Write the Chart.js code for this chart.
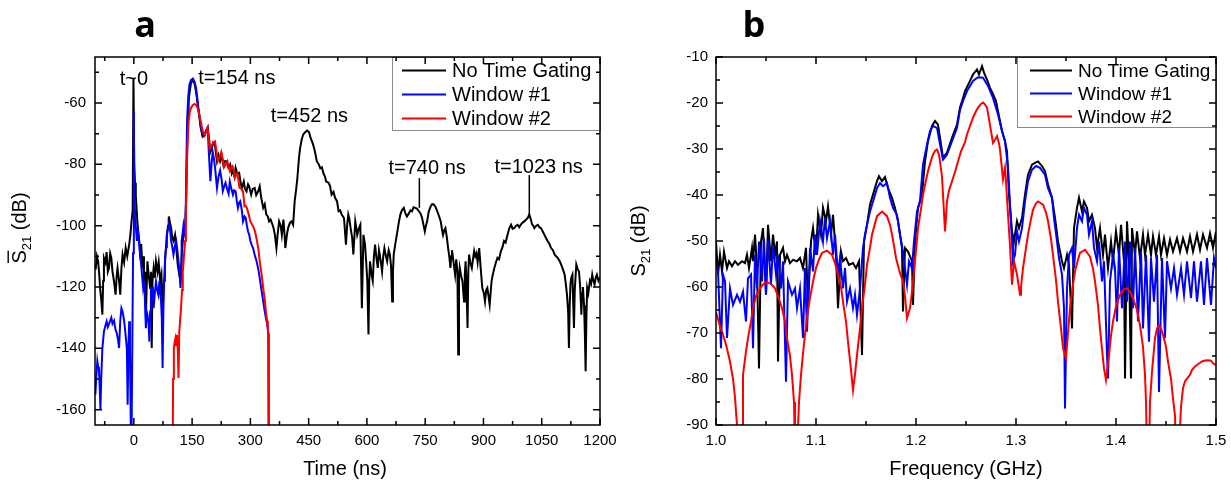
<!DOCTYPE html>
<html>
<head>
<meta charset="utf-8">
<script src="https://cdn.jsdelivr.net/npm/chart.js@4.4.0/dist/chart.umd.min.js"></script>
<style>
  html, body { margin: 0; padding: 0; background: #fff; }
  #wrap { position: relative; width: 1231px; height: 481px; }
  #chartA { position: absolute; left: 0; top: 0; }
  #chartB { position: absolute; left: 611px; top: 0; }
</style>
</head>
<body>
<div id="wrap">
  <canvas id="chartA" width="640" height="481"></canvas>
  <canvas id="chartB" width="620" height="481"></canvas>
</div>
<script>
// ---- panel a: time domain, [t (ns), S21 (dB)] ----
const aNoGate = [[-100,-114],[-98,-113.8],[-95,-110],[-92,-111.6],[-89,-116],[-87,-120.3],[-84,-124],[-81,-129],[-79,-118],[-77,-110.5],[-73,-112],[-70,-108.6],[-67,-115],[-64,-113.8],[-61,-109],[-58,-110.5],[-55,-115],[-51,-118.2],[-47,-122.5],[-44,-116],[-42,-113.8],[-38,-118],[-35,-122.5],[-32,-114],[-29,-109.4],[-25,-112],[-21,-107.2],[-17,-110],[-12,-106.2],[-9,-103],[-6,-98.6],[-3,-95],[-1,-51.8],[1,-80],[3,-86],[5,-90],[9,-98.6],[12,-103],[14,-105],[16,-108.6],[19,-106],[22,-113.8],[24,-110],[26,-118.2],[29,-115],[31,-130],[33,-120],[35,-111.6],[38,-116],[42,-120.3],[44,-115],[46,-139.9],[48,-118],[51,-113.8],[54,-117],[57,-111.6],[61,-115],[64,-112],[68,-118.2],[71,-116],[74,-126.9],[76,-121],[78,-118],[81,-110],[85,-103],[88,-100],[90,-97],[93,-99],[96,-100.8],[99,-104],[102,-105],[106,-103],[109,-107.2],[113,-112.7],[117,-116],[120,-118],[123,-110],[126,-105],[129,-103],[132,-100.8],[135,-90],[138,-70],[142,-58],[147,-53.5],[152,-52.5],[157,-54],[162,-58],[167,-63],[172,-68],[177,-71],[182,-70.5],[186,-69],[190,-68],[194,-72],[197,-76],[200,-75],[204,-73],[209,-74],[214,-79],[218,-77],[222,-79],[226,-77],[230,-80],[234,-79],[238,-79],[243,-81],[248,-80],[252,-83],[255,-82],[259,-84],[262,-81.2],[266,-83],[271,-82.8],[275,-86],[278,-87.7],[283,-85.6],[286,-88],[290,-88.8],[294,-86.5],[297,-87.2],[302,-89.9],[306,-88],[311,-87.7],[315,-90],[320,-88.8],[324,-87.2],[328,-91],[333,-94.2],[337,-93],[341,-96.4],[345,-97],[348,-98.6],[352,-98],[357,-99.7],[360,-101],[363,-102.9],[367,-107.3],[370,-103],[374,-98.6],[378,-100],[381,-103],[385,-98],[388,-103],[390,-107.3],[394,-103],[397,-100.8],[402,-99],[406,-98.6],[410,-99.7],[414,-92],[418,-88],[421,-84.5],[425,-78],[428,-74.7],[432,-72],[436,-70.3],[441,-69.5],[446,-69],[451,-69.5],[455,-71.4],[460,-73],[464,-74.7],[468,-77],[471,-79],[476,-80],[480,-81.3],[484,-81],[488,-82.9],[492,-84],[495,-85.6],[501,-86],[505,-87],[509,-89.9],[514,-89],[518,-90.9],[523,-92],[527,-95.3],[531,-95],[535,-96.4],[541,-97.5],[546,-106.2],[549,-100],[552,-96.4],[555,-98],[558,-100.8],[562,-104],[565,-109.4],[568,-103],[570,-98.6],[573,-101],[575,-103],[579,-101],[583,-99.7],[587,-126.9],[591,-103],[595,-106],[598,-111.6],[601,-118],[604,-135.5],[606,-118],[608,-111.6],[612,-116],[615,-118],[618,-110],[621,-106.2],[624,-110],[628,-113.8],[631,-108],[633,-109.4],[636,-112],[639,-115],[642,-110],[645,-107.3],[649,-110],[652,-111.6],[656,-108],[659,-109.4],[662,-113],[665,-124.7],[667,-115],[669,-109.4],[673,-106],[677,-103],[682,-99],[686,-96.4],[690,-95],[695,-94.2],[699,-96],[703,-97],[708,-96],[712,-95],[716,-95.3],[720,-94],[725,-94.2],[729,-94.5],[734,-95.3],[738,-96],[742,-97.5],[746,-100],[749,-101.9],[752,-100],[755,-98.6],[759,-95.5],[764,-93.7],[768,-93],[772,-93.1],[777,-94],[781,-95.3],[786,-97],[790,-98.6],[793,-101],[796,-103],[799,-101.5],[802,-100.8],[806,-104],[809,-107.3],[812,-110],[815,-113.8],[817,-110],[819,-108],[823,-112],[827,-116],[830,-111],[833,-115],[835,-142],[837,-118],[839,-113.8],[842,-116],[846,-118.2],[850,-124.7],[852,-116],[854,-111.6],[856,-118],[859,-133.4],[861,-115],[863,-109.4],[866,-112],[870,-113.8],[873,-111],[876,-108.3],[879,-110],[882,-109],[885,-112],[889,-107.3],[893,-114],[897,-120.3],[901,-122],[904,-124.7],[907,-121],[910,-120.3],[913,-123],[916,-125.8],[919,-121],[921,-118],[924,-116],[928,-113.8],[932,-112],[936,-110.5],[940,-111],[945,-108.3],[949,-107],[953,-105],[957,-105.5],[962,-103],[966,-101],[971,-99.7],[975,-101],[979,-100.8],[984,-100],[988,-99.7],[992,-100.5],[997,-99.5],[1001,-99],[1005,-98.6],[1010,-98],[1014,-97.5],[1018,-96.4],[1022,-98],[1025,-99.5],[1028,-100],[1031,-100.8],[1036,-100],[1040,-99.7],[1044,-100.5],[1048,-100.8],[1053,-102],[1057,-103],[1061,-104],[1065,-105],[1070,-106],[1074,-107.3],[1079,-108],[1083,-109.4],[1087,-110],[1091,-110.5],[1096,-111.5],[1100,-112.7],[1104,-114],[1109,-116],[1112,-119],[1115,-122.5],[1118,-128],[1120,-139.9],[1122,-126],[1124,-119],[1126,-117],[1129,-116],[1131,-125],[1133,-133.4],[1135,-121],[1139,-112.7],[1142,-114],[1146,-115],[1149,-120],[1152,-129],[1154,-122],[1156,-120],[1159,-126],[1161,-135],[1163,-147.5],[1165,-130],[1167,-120.3],[1170,-122],[1174,-118],[1177,-119],[1180,-116],[1183,-118],[1186,-119.2],[1189,-117],[1192,-116],[1196,-118],[1200,-117]];

const aWin1 = [[-99,-155],[-97,-150],[-94,-144.2],[-92,-146],[-90,-146.4],[-88,-152],[-86,-160],[-84,-150],[-81,-140],[-77,-134.5],[-74,-133],[-70,-131.2],[-67,-133],[-64,-132],[-61,-131],[-58,-130],[-55,-132],[-51,-131],[-47,-134],[-44,-135],[-41,-137],[-38,-139.9],[-35,-131],[-32,-126.9],[-29,-128],[-25,-131],[-21,-136],[-18,-140],[-16,-158.4],[-14,-140],[-12,-131.2],[-10,-140],[-8,-163.8],[-6,-170],[-4,-140],[-2,-109],[0,-62.7],[1,-90],[4,-98],[6,-102],[8,-105],[10,-101],[12,-103],[15,-108],[18,-111.6],[21,-116],[24,-120.3],[27,-118],[29,-126],[31,-133.4],[33,-128],[35,-129],[38,-132],[40,-137.8],[42,-128],[44,-120],[47,-124],[49,-120],[51,-126.9],[54,-122],[57,-118.2],[60,-121],[63,-122.5],[66,-118],[70,-124.7],[72,-130],[74,-146.4],[76,-128],[78,-118],[80,-111.6],[83,-107],[85,-103],[88,-101],[90,-99.7],[93,-101],[96,-105],[99,-107],[102,-109.4],[105,-107],[109,-105],[112,-108],[115,-111.6],[118,-116],[120,-120.3],[122,-113],[123,-105],[126,-102],[128,-99.7],[131,-101.9],[133,-100],[135,-82],[137,-66],[140,-58],[143,-54],[147,-52.5],[152,-52],[156,-53],[160,-55],[163,-58],[166,-61.6],[170,-65],[173,-68],[177,-70],[182,-70.5],[186,-69],[190,-68],[193,-76],[197,-85.5],[200,-80],[203,-76],[206,-78],[209,-81],[214,-87.7],[218,-84],[222,-82],[226,-85],[229,-88.7],[233,-87],[236,-86],[240,-88],[244,-89.6],[247,-85.6],[251,-88],[255,-89.9],[258,-88.5],[262,-88.8],[265,-92],[268,-94.2],[271,-92.5],[274,-92],[278,-95],[281,-98.6],[285,-97],[288,-97.5],[291,-100],[294,-101.9],[297,-103],[300,-105],[304,-106.5],[307,-107.3],[311,-109.5],[316,-111.6],[320,-114],[324,-117],[328,-120.5],[333,-124.7],[337,-128],[340,-130.1],[343,-132],[346,-135],[347,-175]];

const aWin2 = [[100,-175],[101,-150],[103,-140],[105,-138],[107,-136.8],[109,-139],[111,-135.6],[113,-140],[115,-149.7],[117,-134.5],[119,-131],[121.5,-126.9],[124,-121],[126,-114.9],[129,-110],[132,-105],[134,-96],[136,-83.4],[138,-74],[141,-66],[144,-63],[147,-61.6],[151,-60.8],[156,-60.3],[160,-60.6],[164,-61.6],[168,-63.5],[173,-66.5],[177,-69],[182,-70.5],[186,-69],[190,-68],[193,-72],[195,-75],[200,-74],[204,-73],[209,-72.5],[213,-76],[216,-79],[220,-78],[225,-76],[229,-78.5],[232,-81],[237,-80],[241,-79],[244,-81],[247,-82.2],[251,-81],[254,-80.6],[257,-82],[260,-84.4],[263,-83.5],[266,-82.8],[269,-85],[272,-87.7],[277,-88],[281,-88.8],[285,-93.7],[288,-93.5],[291,-94.2],[295,-96],[300,-98.6],[304,-99.5],[309,-100.8],[313,-102.5],[317,-105],[321,-108],[324,-111.6],[329,-116],[333,-120.3],[337,-124],[340,-128],[343,-131],[345,-133.4],[347,-137],[348,-175]];

const aTimeTicks = [0, 150, 300, 450, 600, 750, 900, 1050, 1200];
const aS21Ticks = [-160, -140, -120, -100, -80, -60];

// peak labels: text, anchor t, anchor dB, optional marker line [t, dB from, dB to]
const aNotes = [
  { text: 't~0', t: 0, db: -52.4 },
  { text: 't=154 ns', t: 265, db: -51.9 },
  { text: 't=452 ns', t: 452, db: -64.4 },
  { text: 't=740 ns', t: 755, db: -81.2, mark: [735, -84.5, -94.2] },
  { text: 't=1023 ns', t: 1042, db: -81, mark: [1018, -83.5, -97] }
];

// ---- panel b: frequency domain, [f (GHz), S21 (dB)] ----
const bNoGate = [[1.000,-50.1],[1.002,-57.3],[1.004,-53],[1.006,-56.6],[1.008,-52.3],[1.011,-55.9],[1.013,-54.4],[1.016,-55.5],[1.019,-54.4],[1.022,-55.2],[1.026,-54.4],[1.029,-54.8],[1.031,-53],[1.033,-55.9],[1.036,-51.5],[1.037,-54.4],[1.039,-48.6],[1.041,-55.9],[1.043,-77.7],[1.045,-50.1],[1.047,-47.2],[1.050,-61.7],[1.052,-46.5],[1.055,-54.4],[1.057,-48.6],[1.059,-53],[1.061,-50.1],[1.062,-76.2],[1.064,-53],[1.067,-51.5],[1.069,-54.4],[1.071,-53],[1.074,-54.8],[1.077,-54.1],[1.081,-54.4],[1.084,-53.7],[1.087,-55.9],[1.090,-51.5],[1.092,-63.9],[1.095,-50.1],[1.097,-47.2],[1.100,-53],[1.102,-44.3],[1.105,-48.6],[1.107,-42.8],[1.110,-45.7],[1.112,-42.5],[1.115,-48.6],[1.117,-44.3],[1.120,-53],[1.122,-64.6],[1.125,-52.3],[1.127,-54.4],[1.130,-53.7],[1.133,-55.2],[1.137,-54.8],[1.140,-55.9],[1.143,-54.4],[1.146,-74.8],[1.148,-50.1],[1.151,-46.5],[1.154,-42.1],[1.157,-39.9],[1.161,-37],[1.163,-35.9],[1.166,-37],[1.169,-36.1],[1.172,-38.5],[1.176,-40.6],[1.179,-42.8],[1.182,-45.7],[1.186,-51.5],[1.187,-65.3],[1.189,-51.5],[1.192,-52.3],[1.196,-54.4],[1.197,-63.9],[1.199,-50.1],[1.202,-42.8],[1.206,-39.9],[1.209,-32.7],[1.212,-28.3],[1.216,-25],[1.219,-23.9],[1.222,-24.7],[1.225,-29],[1.227,-31.9],[1.231,-30.8],[1.236,-27.6],[1.241,-24.7],[1.244,-21],[1.247,-18.9],[1.249,-17.4],[1.254,-15.2],[1.257,-13.8],[1.261,-12.7],[1.263,-13.8],[1.266,-12],[1.268,-13.4],[1.271,-14.9],[1.274,-16.7],[1.277,-18.1],[1.280,-19.6],[1.282,-21.8],[1.286,-26.1],[1.289,-28.3],[1.291,-30.5],[1.293,-39.9],[1.296,-47.9],[1.298,-50.1],[1.301,-45.7],[1.303,-47.2],[1.306,-45],[1.309,-39.9],[1.312,-35.6],[1.316,-33.4],[1.319,-33],[1.322,-32.7],[1.326,-33.7],[1.329,-34.8],[1.332,-37.7],[1.336,-40.6],[1.339,-45],[1.342,-50.1],[1.346,-54.4],[1.348,-55.9],[1.351,-53],[1.353,-55.2],[1.356,-69],[1.358,-47.2],[1.361,-42.8],[1.363,-40.6],[1.366,-43.6],[1.368,-41.4],[1.371,-42.8],[1.373,-45.7],[1.376,-44.3],[1.379,-47.2],[1.381,-51.5],[1.384,-47.2],[1.387,-53],[1.389,-48.6],[1.392,-55.9],[1.395,-50.1],[1.397,-54.4],[1.400,-47.9],[1.403,-53],[1.405,-46.5],[1.408,-54.4],[1.409,-79.9],[1.411,-45.7],[1.413,-54.4],[1.415,-79.9],[1.416,-47.2],[1.419,-53],[1.421,-47.9],[1.424,-53.7],[1.427,-48.6],[1.429,-53],[1.432,-48.6],[1.435,-53],[1.437,-49],[1.440,-53],[1.443,-49],[1.445,-53],[1.448,-49.4],[1.451,-53],[1.454,-49.7],[1.457,-52.3],[1.461,-49.4],[1.464,-52.3],[1.467,-49.4],[1.471,-52.3],[1.474,-49],[1.477,-52.3],[1.481,-48.6],[1.484,-51.9],[1.487,-48.6],[1.491,-51.5],[1.494,-48.3],[1.497,-51.5],[1.500,-48]];

const bWin1 = [[1.000,-54.4],[1.002,-56.6],[1.005,-73.3],[1.007,-57.3],[1.009,-58.8],[1.011,-71.1],[1.014,-60.3],[1.017,-63.9],[1.021,-61.7],[1.024,-63.2],[1.027,-61],[1.030,-67.5],[1.032,-58.1],[1.035,-57.3],[1.037,-73.3],[1.039,-53],[1.041,-60.3],[1.043,-50.1],[1.046,-58.8],[1.048,-49.4],[1.050,-61.7],[1.052,-49.7],[1.055,-59.5],[1.057,-50.8],[1.060,-57.3],[1.062,-53],[1.065,-60.3],[1.067,-54.4],[1.070,-80.6],[1.072,-58.8],[1.076,-61.7],[1.079,-60.3],[1.081,-64.6],[1.084,-60.3],[1.087,-71.1],[1.089,-55.9],[1.091,-69.7],[1.094,-51.5],[1.097,-56.6],[1.099,-48.6],[1.101,-53],[1.104,-45.7],[1.107,-50.1],[1.109,-45],[1.111,-49.4],[1.114,-45.7],[1.117,-53],[1.119,-48.6],[1.122,-57.3],[1.124,-53.7],[1.127,-60.3],[1.129,-55.9],[1.131,-63.2],[1.134,-60.3],[1.137,-64.6],[1.139,-61.7],[1.141,-66.1],[1.144,-60.3],[1.147,-51.5],[1.149,-48.6],[1.151,-46.5],[1.154,-43.6],[1.157,-41.4],[1.161,-38.5],[1.164,-37.4],[1.167,-38.1],[1.171,-37.4],[1.174,-40.6],[1.177,-42.8],[1.181,-44.3],[1.184,-48.6],[1.187,-52.3],[1.189,-55.9],[1.191,-59.5],[1.193,-54.4],[1.196,-55.9],[1.198,-50.1],[1.201,-43.6],[1.204,-41.4],[1.207,-33.4],[1.211,-29],[1.214,-26.1],[1.217,-25],[1.221,-25.4],[1.224,-29],[1.227,-32.3],[1.231,-31.2],[1.236,-28.3],[1.241,-25.4],[1.244,-21.5],[1.247,-19.6],[1.251,-17.4],[1.257,-15.2],[1.262,-14.4],[1.267,-14.5],[1.272,-16.3],[1.277,-18.9],[1.282,-22.5],[1.286,-26.1],[1.289,-28.3],[1.292,-34.1],[1.294,-42.1],[1.296,-50.1],[1.297,-54.4],[1.299,-53],[1.301,-47.9],[1.303,-50.1],[1.306,-47.2],[1.309,-41.4],[1.312,-37],[1.316,-34.5],[1.320,-33.7],[1.324,-34.1],[1.329,-35.6],[1.332,-38.5],[1.336,-40.6],[1.338,-45],[1.341,-50.1],[1.343,-53.7],[1.346,-57.3],[1.348,-64.6],[1.349,-86.4],[1.351,-60.3],[1.353,-53],[1.356,-51.5],[1.358,-55.9],[1.361,-47.2],[1.363,-44.3],[1.366,-45.7],[1.368,-42.8],[1.371,-44.3],[1.373,-48.6],[1.376,-45.7],[1.378,-51.5],[1.381,-54.4],[1.383,-50.1],[1.386,-58.8],[1.388,-54.4],[1.391,-74.8],[1.392,-79.9],[1.394,-58.8],[1.397,-53],[1.399,-55.9],[1.401,-67.5],[1.403,-51.5],[1.406,-64.6],[1.409,-50.1],[1.411,-63.2],[1.414,-50.1],[1.417,-64.6],[1.419,-51.5],[1.422,-67.5],[1.425,-52.3],[1.427,-69],[1.430,-53],[1.433,-71.9],[1.435,-53.7],[1.438,-63.2],[1.441,-53],[1.443,-82.8],[1.446,-53.7],[1.449,-71.1],[1.451,-54.4],[1.455,-60.3],[1.458,-55.9],[1.461,-61.7],[1.465,-55.9],[1.468,-61.7],[1.471,-54.4],[1.475,-62.4],[1.478,-54.4],[1.481,-63.2],[1.485,-54.4],[1.488,-63.9],[1.491,-53.7],[1.495,-63.9],[1.498,-53.7],[1.500,-55.9]];

const bWin2 = [[1.000,-65.5],[1.004,-68.5],[1.007,-70.4],[1.010,-72.5],[1.014,-76.2],[1.017,-80],[1.019,-84],[1.021,-90],[1.022,-96],[1.025,-96],[1.026,-90],[1.027,-79.1],[1.030,-74],[1.032,-71.1],[1.035,-67.5],[1.037,-64.6],[1.040,-62],[1.044,-60.3],[1.048,-59.2],[1.051,-59],[1.055,-59.3],[1.059,-60.3],[1.062,-62],[1.066,-64.6],[1.069,-67.5],[1.071,-71.1],[1.074,-75],[1.076,-79.1],[1.078,-85],[1.079,-96],[1.081,-96],[1.083,-85],[1.085,-79.1],[1.087,-74.5],[1.089,-70.4],[1.091,-66.5],[1.094,-62.4],[1.097,-58.8],[1.100,-55.9],[1.103,-54],[1.106,-52.6],[1.111,-52.1],[1.116,-53],[1.119,-54.8],[1.122,-57.3],[1.125,-60],[1.127,-63.2],[1.130,-67.5],[1.132,-71.9],[1.135,-78],[1.137,-82.4],[1.139,-79],[1.141,-74.8],[1.144,-69],[1.146,-64.6],[1.149,-59.5],[1.151,-55.2],[1.154,-51.5],[1.156,-48.6],[1.159,-46.2],[1.161,-44.6],[1.166,-43.6],[1.171,-44.6],[1.174,-46.5],[1.176,-48.6],[1.178,-51],[1.180,-53.7],[1.184,-57],[1.187,-58.8],[1.189,-62],[1.191,-66.8],[1.194,-64.6],[1.196,-61],[1.198,-56.6],[1.200,-52],[1.202,-47.2],[1.205,-43],[1.207,-39.9],[1.210,-36.8],[1.212,-34.8],[1.215,-32.5],[1.217,-31.2],[1.219,-30.4],[1.221,-30.1],[1.223,-31.2],[1.224,-32.7],[1.226,-36],[1.227,-39.9],[1.229,-47.9],[1.231,-41.4],[1.233,-39],[1.236,-37],[1.239,-35],[1.242,-32.7],[1.245,-30.5],[1.249,-28.5],[1.251,-26.8],[1.254,-25],[1.257,-23.2],[1.260,-21.8],[1.262,-21],[1.265,-20.2],[1.267,-19.9],[1.269,-20.3],[1.271,-21],[1.273,-23.5],[1.275,-26.1],[1.277,-28.7],[1.279,-28],[1.281,-27.2],[1.283,-28.8],[1.284,-30.1],[1.287,-36.6],[1.289,-34.1],[1.290,-37],[1.292,-44.3],[1.294,-51],[1.296,-59.5],[1.298,-54.4],[1.301,-57.3],[1.304,-61.7],[1.305,-60],[1.307,-55.9],[1.310,-51.5],[1.312,-48.6],[1.315,-45.2],[1.317,-43.2],[1.320,-41.8],[1.322,-41.4],[1.327,-42.1],[1.330,-43.8],[1.332,-45.7],[1.335,-49.5],[1.337,-53],[1.340,-58.5],[1.342,-63.2],[1.345,-69],[1.347,-73.3],[1.350,-75.5],[1.352,-70],[1.354,-64.6],[1.357,-59.5],[1.359,-56.6],[1.362,-54],[1.364,-52.6],[1.369,-51.9],[1.374,-53.4],[1.377,-56],[1.379,-58.8],[1.382,-64],[1.384,-69],[1.386,-73.5],[1.388,-77.7],[1.390,-80.2],[1.393,-74.8],[1.395,-70.5],[1.397,-67.5],[1.400,-64.2],[1.404,-61.7],[1.408,-60.5],[1.411,-60.3],[1.414,-61],[1.417,-62.4],[1.421,-65],[1.424,-68.3],[1.427,-73],[1.429,-79.1],[1.430,-85],[1.431,-96],[1.433,-96],[1.434,-85],[1.436,-78.4],[1.439,-71.1],[1.441,-69],[1.443,-68.3],[1.445,-69],[1.447,-70.4],[1.450,-73],[1.452,-76.2],[1.455,-80],[1.457,-84.2],[1.459,-88],[1.460,-96],[1.463,-96],[1.465,-86],[1.467,-82],[1.469,-80.5],[1.471,-79.9],[1.474,-79.1],[1.476,-78],[1.479,-77.3],[1.482,-76.8],[1.486,-76.2],[1.489,-76],[1.492,-75.9],[1.495,-76],[1.497,-76.6],[1.500,-77]];

const bFreqTicks = [1.0, 1.1, 1.2, 1.3, 1.4, 1.5];
const bS21Ticks = [-90, -80, -70, -60, -50, -40, -30, -20, -10];

const seriesLabels = ['No Time Gating', 'Window #1', 'Window #2'];
const seriesColors = ['#000000', '#0000ff', '#ff0000'];

const FONT = '"Liberation Sans", Arial, sans-serif';

// midpoints between major ticks, inside the axis range
function minorTicks(majors, min, max) {
  const step = majors[1] - majors[0];
  const out = [];
  for (let v = majors[0] - step / 2; v <= max + 1e-9; v += step) {
    if (v >= min - 1e-9) out.push(v);
  }
  return out;
}

function drawYTitle(ctx, cx, cy, bar) {
  ctx.save();
  ctx.translate(cx, cy);
  ctx.rotate(-Math.PI / 2);
  ctx.fillStyle = '#000';
  ctx.textAlign = 'left';
  ctx.textBaseline = 'alphabetic';
  const big = '20px ' + FONT, small = '13px ' + FONT;
  ctx.font = big;
  const wS = ctx.measureText('S').width;
  const wRest = ctx.measureText(' (dB)').width;
  ctx.font = small;
  const wSub = ctx.measureText('21').width;
  let x = -(wS + wSub + wRest) / 2;
  const base = 7;
  ctx.font = big;
  ctx.fillText('S', x, base);
  if (bar) ctx.fillRect(x + 0.5, base - 18.5, wS - 1, 1.4);
  x += wS;
  ctx.font = small;
  ctx.fillText('21', x, base + 5);
  x += wSub;
  ctx.font = big;
  ctx.fillText(' (dB)', x, base);
  ctx.restore();
}

const decor = {
  id: 'decor',
  afterDraw(chart, args, o) {
    const ctx = chart.ctx;
    const a = chart.chartArea;
    const sx = chart.scales.x, sy = chart.scales.y;
    ctx.save();
    ctx.fillStyle = '#000';

    // panel letter
    ctx.font = 'bold 36px "Open Sans", sans-serif';
    ctx.textAlign = 'center';
    ctx.textBaseline = 'alphabetic';
    ctx.fillText(o.letter, o.letterX, 37);

    // axis titles
    ctx.font = '20px ' + FONT;
    ctx.fillText(o.xTitle, o.xTitleX, 475);
    drawYTitle(ctx, o.yTitleX, o.yTitleY, o.bar);

    // peak labels
    ctx.font = '20px ' + FONT;
    ctx.textBaseline = 'middle';
    ctx.strokeStyle = '#000';
    ctx.lineWidth = 1.5;
    (o.notes || []).forEach(n => {
      ctx.fillText(n.text, sx.getPixelForValue(n.t), sy.getPixelForValue(n.db));
      if (n.mark) {
        const px = sx.getPixelForValue(n.mark[0]);
        ctx.beginPath();
        ctx.moveTo(px, sy.getPixelForValue(n.mark[1]));
        ctx.lineTo(px, sy.getPixelForValue(n.mark[2]));
        ctx.stroke();
      }
    });

    // legend
    const L = o.legend;
    ctx.fillStyle = '#fff';
    ctx.fillRect(L.left, a.top, a.right - L.left, L.bottom - a.top);
    ctx.strokeStyle = '#8a8a8a';
    ctx.lineWidth = 1;
    ctx.strokeRect(L.left + 0.5, a.top + 0.5, a.right - L.left, L.bottom - a.top);
    ctx.font = L.fontSize + 'px ' + FONT;
    ctx.textAlign = 'left';
    chart.data.datasets.forEach((d, i) => {
      const y = a.top + L.first + i * L.step;
      ctx.strokeStyle = d.borderColor;
      ctx.lineWidth = 2;
      ctx.beginPath();
      ctx.moveTo(L.line0, y);
      ctx.lineTo(L.line1, y);
      ctx.stroke();
      ctx.fillStyle = '#000';
      ctx.fillText(d.label, L.text, y + 1);
    });

    // frame and inward ticks on all four sides
    ctx.strokeStyle = '#000';
    ctx.lineWidth = 1.5;
    ctx.strokeRect(a.left, a.top, a.right - a.left, a.bottom - a.top);
    const xMaj = sx.ticks.map(t => t.value);
    const yMaj = sy.ticks.map(t => t.value);
    const marks = (vals, len, isX) => {
      vals.forEach(v => {
        const p = isX ? sx.getPixelForValue(v) : sy.getPixelForValue(v);
        ctx.beginPath();
        if (isX) {
          ctx.moveTo(p, a.bottom); ctx.lineTo(p, a.bottom - len);
          ctx.moveTo(p, a.top); ctx.lineTo(p, a.top + len);
        } else {
          ctx.moveTo(a.left, p); ctx.lineTo(a.left + len, p);
          ctx.moveTo(a.right, p); ctx.lineTo(a.right - len, p);
        }
        ctx.stroke();
      });
    };
    marks(xMaj, 7, true);
    marks(minorTicks(xMaj, sx.min, sx.max), 4, true);
    marks(yMaj, 7, false);
    marks(minorTicks(yMaj, sy.min, sy.max), 4, false);
    ctx.restore();
  }
};

function toXY(pairs) {
  return pairs.map(p => ({ x: p[0], y: p[1] }));
}

function makePanel(id, p) {
  const sets = [p.black, p.blue, p.red].map((s, i) => ({
    label: seriesLabels[i],
    data: toXY(s),
    borderColor: seriesColors[i],
    borderWidth: 2,
    pointRadius: 0,
    fill: false,
    tension: 0,
    order: 3 - i
  }));
  const tickFont = { family: FONT, size: 15 };
  return new Chart(document.getElementById(id), {
    type: 'line',
    data: { datasets: sets },
    options: {
      responsive: false,
      animation: false,
      devicePixelRatio: 1,
      layout: { padding: { top: 57, right: p.rightPad, left: 0, bottom: 0 } },
      plugins: {
        legend: { display: false },
        tooltip: { enabled: false },
        decor: p.decor
      },
      scales: {
        x: {
          type: 'linear',
          min: p.xMin, max: p.xMax,
          grid: { display: false, drawTicks: false },
          border: { display: false },
          afterBuildTicks: s => { s.ticks = p.xTicks.map(v => ({ value: v })); },
          afterFit: s => { s.height = 56; s.paddingLeft = 0; s.paddingRight = 0; },
          ticks: {
            autoSkip: false, maxRotation: 0, padding: 7, color: '#000', font: tickFont,
            callback: p.xFmt
          }
        },
        y: {
          type: 'linear',
          min: p.yMin, max: p.yMax,
          grid: { display: false, drawTicks: false },
          border: { display: false },
          afterBuildTicks: s => { s.ticks = p.yTicks.map(v => ({ value: v })); },
          afterFit: s => { s.width = p.yWidth; s.paddingTop = 0; s.paddingBottom = 0; },
          ticks: {
            autoSkip: false, padding: p.yPad, color: '#000', font: tickFont,
            callback: v => String(v)
          }
        }
      }
    },
    plugins: [decor]
  });
}

// Panel a
makePanel('chartA', {
  black: aNoGate, blue: aWin1, red: aWin2,
  xMin: -100, xMax: 1200, yMin: -165, yMax: -45,
  xTicks: aTimeTicks, yTicks: aS21Ticks,
  xFmt: v => String(v),
  yWidth: 95, yPad: 9, rightPad: 40,
  decor: {
    letter: 'a', letterX: 145,
    xTitle: 'Time (ns)', xTitleX: 345,
    yTitleX: 19, yTitleY: 228, bar: true,
    notes: aNotes,
    legend: { left: 392, bottom: 130, first: 13.5, step: 24, line0: 402, line1: 446, text: 452, fontSize: 20 }
  }
});

// Panel b
makePanel('chartB', {
  black: bNoGate, blue: bWin1, red: bWin2,
  xMin: 1.0, xMax: 1.5, yMin: -90, yMax: -10,
  xTicks: bFreqTicks, yTicks: bS21Ticks,
  xFmt: v => v.toFixed(1),
  yWidth: 105, yPad: 8, rightPad: 15,
  decor: {
    letter: 'b', letterX: 143,
    xTitle: 'Frequency (GHz)', xTitleX: 355,
    yTitleX: 27, yTitleY: 241, bar: false,
    notes: [],
    legend: { left: 406, bottom: 127, first: 13.5, step: 23, line0: 419, line1: 461, text: 467, fontSize: 19 }
  }
});
</script>
</body>
</html>
